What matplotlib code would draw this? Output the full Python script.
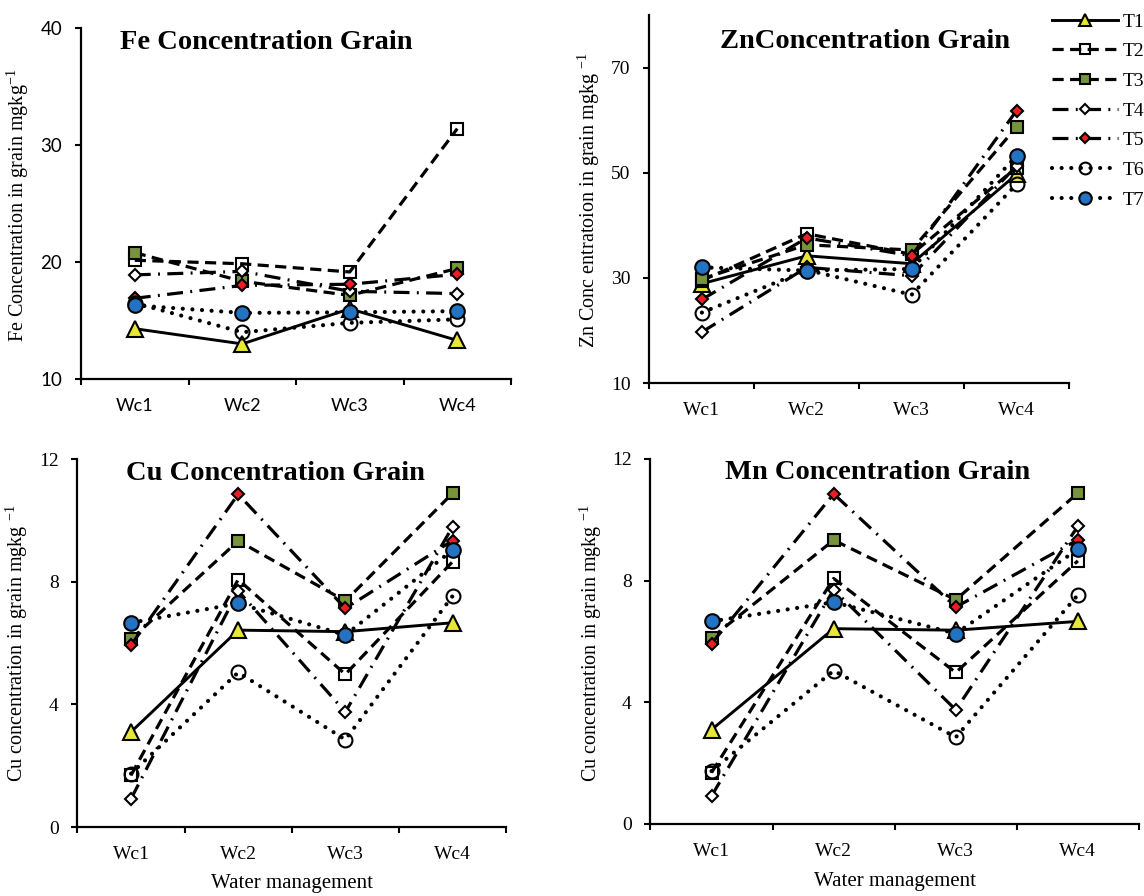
"""
Concentracion de micronutrientes en grano por manejo de agua (Fe, Zn, Cu, Mn).
"""

import matplotlib
matplotlib.use("Agg")
import matplotlib.pyplot as plt

plt.rcParams["font.family"] = ["Liberation Serif", "DejaVu Serif"]
plt.rcParams["mathtext.fontset"] = "custom"
plt.rcParams["mathtext.rm"] = "Liberation Serif"
plt.rcParams["mathtext.default"] = "regular"

# --- Datos ---
WATER = ["Wc1", "Wc2", "Wc3", "Wc4"]
TREATMENTS = ["T1", "T2", "T3", "T4", "T5", "T6", "T7"]

fe_grain = [
    [14.3, 13.0, 16.0, 13.3],
    [20.15, 19.85, 19.15, 31.4],
    [20.8, 18.35, 17.15, 19.45],
    [18.9, 19.2, 17.5, 17.3],
    [16.9, 18.0, 18.1, 18.95],
    [16.5, 14.0, 14.8, 15.1],
    [16.3, 15.65, 15.7, 15.8],
]

zn_grain = [
    [28.9, 34.2, 32.7, 49.7],
    [29.5, 38.4, 34.5, 51.0],
    [29.8, 36.3, 35.3, 58.7],
    [19.7, 32.0, 30.4, 51.3],
    [25.9, 37.6, 34.2, 61.8],
    [23.4, 31.5, 26.8, 47.8],
    [32.0, 31.4, 31.7, 53.2],
]

cu_grain = [
    [3.1, 6.42, 6.37, 6.66],
    [1.69, 8.07, 4.98, 8.65],
    [6.12, 9.33, 7.37, 10.88],
    [0.92, 7.7, 3.75, 9.79],
    [5.93, 10.85, 7.13, 9.34],
    [1.74, 5.04, 2.85, 7.53],
    [6.66, 7.29, 6.26, 9.03],
]

mn_grain = [
    [3.1, 6.42, 6.37, 6.66],
    [1.69, 8.07, 4.98, 8.65],
    [6.12, 9.33, 7.37, 10.88],
    [0.92, 7.7, 3.75, 9.79],
    [5.93, 10.85, 7.13, 9.34],
    [1.74, 5.04, 2.85, 7.53],
    [6.66, 7.29, 6.26, 9.03],
]

# --- Estilos por tratamiento ---
YELLOW = "#e8e636"
GREEN = "#77933c"
RED = "#ee1d23"
BLUE = "#2373c2"

DASH = (0, (3.5, 2.0))
DASHDOT = (0, (5.0, 2.3, 0.6, 2.3))
DOT = (0, (0.01, 2.3))

STYLES = [
    dict(ls="-", lw=2.1, marker="^", mfc=YELLOW, ms=11),
    dict(ls=DASH, lw=2.3, marker="s", mfc="none", ms=8),
    dict(ls=DASH, lw=2.3, marker="s", mfc=GREEN, ms=8),
    dict(ls=DASHDOT, lw=2.3, marker="D", mfc="white", ms=6.2),
    dict(ls=DASHDOT, lw=2.3, marker="D", mfc=RED, ms=6.2),
    dict(ls=DOT, lw=3.0, marker="o", mfc="none", ms=10),
    dict(ls=DOT, lw=3.0, marker="o", mfc=BLUE, ms=10.5),
]


def _draw_panel(ax, data, ylim, yticks, tick_font):
    xs = range(1, len(WATER) + 1)
    lines = []
    for values, st in zip(data, STYLES):
        (ln,) = ax.plot(
            xs, values,
            color="black", lw=st["lw"], linestyle=st["ls"],
            dash_capstyle="round" if st["ls"] is DOT else "butt",
            marker=st["marker"], ms=st["ms"],
            mfc=st["mfc"], mec="black", mew=1.5,
        )
        lines.append(ln)

    ax.set_xlim(0.5, len(WATER) + 0.5)
    ax.set_ylim(*ylim)
    ax.set_yticks(yticks)
    ax.set_xticks([i + 0.5 for i in range(len(WATER) + 1)])
    ax.set_xticklabels([])
    ax.set_xticks(list(xs), minor=True)
    ax.set_xticklabels(WATER, minor=True, family=tick_font, fontsize=14 if tick_font != "Lato" else 13)
    for lab in ax.get_yticklabels():
        lab.set_family(tick_font)
        lab.set_fontsize(14 if tick_font != "Lato" else 13.5)

    ax.tick_params(axis="both", which="major", direction="out", length=4.5, width=1.5, pad=9)
    ax.tick_params(axis="x", which="minor", length=0, pad=14)

    for side in ("top", "right"):
        ax.spines[side].set_visible(False)
    for side in ("left", "bottom"):
        ax.spines[side].set_linewidth(1.6)
    return lines


fig = plt.figure(figsize=(11.44, 8.96), dpi=100)

ax_fe = fig.add_axes([0.0708, 0.5770, 0.3759, 0.3917])
ax_zn = fig.add_axes([0.5677, 0.5725, 0.3667, 0.4107])
ax_cu = fig.add_axes([0.0677, 0.0770, 0.3747, 0.4107])
ax_mn = fig.add_axes([0.5686, 0.0804, 0.4270, 0.4074])

lines = _draw_panel(ax_fe, fe_grain, (10, 40), [10, 20, 30, 40], "Lato")
_draw_panel(ax_zn, zn_grain, (10, 80), [10, 30, 50, 70], "Liberation Serif")
_draw_panel(ax_cu, cu_grain, (0, 12), [0, 4, 8, 12], "Liberation Serif")
_draw_panel(ax_mn, mn_grain, (0, 12), [0, 4, 8, 12], "Liberation Serif")

# Titulos dentro de cada panel
TITLE_KW = dict(fontsize=20.5, fontweight="bold", ha="center", va="center")
ax_fe.text(0.43, 0.96, "Fe Concentration Grain", transform=ax_fe.transAxes, **TITLE_KW)
ax_zn.text(0.514, 0.927, "ZnConcentration Grain", transform=ax_zn.transAxes, **TITLE_KW)
ax_cu.text(0.463, 0.962, "Cu Concentration Grain", transform=ax_cu.transAxes, **TITLE_KW)
ax_mn.text(0.464, 0.962, "Mn Concentration Grain", transform=ax_mn.transAxes, **TITLE_KW)

# Etiquetas de ejes (coordenada x = borde derecho del texto girado)
LABEL_FS = 14.5
ax_fe.set_ylabel("Fe Concentration in grain mgkg$^{-1}$", fontsize=LABEL_FS)
ax_fe.yaxis.set_label_coords(-0.117, 0.496)
ax_zn.set_ylabel("Zn Conc entratoion in grain mgkg $^{-1}$", fontsize=LABEL_FS)
ax_zn.yaxis.set_label_coords(-0.113, 0.497)
ax_cu.set_ylabel("Cu concentration in grain mgkg $^{-1}$", fontsize=LABEL_FS)
ax_cu.yaxis.set_label_coords(-0.111, 0.5)
ax_mn.set_ylabel("Cu concentration in grain mgkg $^{-1}$", fontsize=LABEL_FS)
ax_mn.yaxis.set_label_coords(-0.096, 0.496)

ax_cu.set_xlabel("Water management", fontsize=15)
ax_cu.xaxis.set_label_coords(0.5, -0.128)
ax_mn.set_xlabel("Water management", fontsize=15)
ax_mn.xaxis.set_label_coords(0.5, -0.132)

fig.legend(
    lines, TREATMENTS,
    loc="upper left", bbox_to_anchor=(1052 / 1144, 1 - 13 / 896),
    frameon=False, fontsize=14, handlelength=3.4, handletextpad=0.25,
    labelspacing=0.62, borderpad=0, borderaxespad=0, markerscale=0.85,
)

fig.savefig("out.png", dpi=100)
plt.close(fig)
